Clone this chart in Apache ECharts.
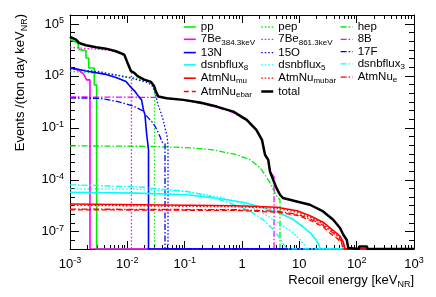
<!DOCTYPE html>
<html><head><meta charset="utf-8">
<script src="https://cdn.jsdelivr.net/npm/echarts@6/dist/echarts.min.js"></script>
<style>html,body{margin:0;padding:0;background:#fff}#c{width:436px;height:297px}</style>
</head><body><div id="c"></div>
<script>
// empty histogram bins are drawn on the floor of the log axis
const ZERO = 1e-8;

const ppE = [0.001, 0.00136, 0.00145, 0.00145, 0.0019, 0.0019, 0.00212, 0.00212, 0.00265, 0.00265, 0.00292, 0.00292, 1000];
const ppR = [13000, 8000, 8000, 3290, 2960, 1090, 1090, 289, 289, 30.2, 30.2, ZERO, ZERO];

const pepE = [0.001, 0.00334, 0.00745, 0.0136, 0.0212, 0.0269, 0.0298, 0.0298, 1000];
const pepR = [181, 139, 107, 76.6, 48, 36, 30, ZERO, ZERO];

const hepE = [0.001, 0.0249, 0.124, 0.312, 0.818, 1.38, 2.06, 2.52, 3.08, 4.08, 4.6, 4.6, 1000];
const hepR = [0.00912, 0.00853, 0.0070, 0.00536, 0.00276, 0.00142, 4.91e-4, 1.94e-4, 6.69e-5, 1.04e-5, 6.98e-6, ZERO, ZERO];

const be384E = [0.001, 0.00138, 0.00171, 0.00183, 0.00194, 0.00223, 0.00223, 1000];
const be384R = [289, 222, 130, 87.5, 58.7, 58.7, ZERO, ZERO];

const be861E = [0.001, 0.0019, 0.00334, 0.00499, 0.00634, 0.00874, 0.01007, 0.0109, 0.0118, 0.0118, 1000];
const be861R = [4410, 3860, 3380, 2960, 2420, 1520, 562, 289, 170, ZERO, ZERO];

const b8E = [0.001, 0.0372, 0.0935, 0.185, 0.366, 0.697, 1.22, 1.83, 2.23, 2.52, 2.84, 3.08, 3.62, 3.62, 1000];
const b8R = [6.1, 5.74, 4.12, 2.59, 1.52, 0.782, 0.253, 0.067, 0.0177, 0.00242, 0.00124, 2.88e-4, 1.48e-4, ZERO, ZERO];

const n13E = [0.001, 0.0019, 0.00424, 0.00634, 0.00948, 0.0118, 0.0136, 0.0157, 0.0177, 0.0191, 0.0203, 0.0216, 0.0229, 0.0234, 0.0234, 1000];
const n13R = [309, 194, 122, 81.8, 48.1, 20.3, 12.7, 6.56, 4.12, 1.09, 0.561, 0.0513, 0.0104, 0.00536, ZERO, ZERO];

const o15E = [0.001, 0.00334, 0.0111, 0.0212, 0.0269, 0.0304, 0.0343, 0.0387, 0.0427, 0.0454, 0.0492, 0.0512, 0.0512, 1000];
const o15R = [253, 170, 76.6, 45, 28.3, 11.9, 2.12, 0.731, 0.253, 0.1, 0.0344, 0.0104, ZERO, ZERO];

const f17E = [0.001, 0.00334, 0.0066, 0.0126, 0.0188, 0.022, 0.0249, 0.028, 0.033, 0.0372, 0.0403, 0.0454, 0.0454, 1000];
const f17R = [5.37, 5.03, 3.38, 1.85, 0.955, 0.459, 0.288, 0.194, 0.0764, 0.0302, 0.0155, 0.0119, ZERO, ZERO];

const dsnb8E = [0.001, 0.0148, 0.11, 0.413, 1.04, 2.23, 4.6, 7.45, 11.6, 16.0, 19.5, 22.0, 23.0, 1000];
const dsnb8R = [1.89e-5, 1.70e-5, 1.36e-5, 7.98e-6, 5.01e-6, 2.58e-6, 1.16e-6, 5.6e-7, 1.93e-7, 7.64e-8, 3.43e-8, 1.77e-8, ZERO, ZERO];

const dsnb5E = [0.001, 0.0148, 0.11, 0.413, 0.923, 1.69, 2.84, 4.8, 7.45, 10.3, 12.5, 13.1, 1000];
const dsnb5R = [3.01e-5, 2.82e-5, 2.10e-5, 9.75e-6, 4.69e-6, 2.11e-6, 7.8e-7, 2.52e-7, 9.95e-8, 3.43e-8, 1.55e-8, ZERO, ZERO];

const dsnb3E = [0.001, 0.0148, 0.11, 0.277, 0.618, 1.27, 2.23, 3.33, 4.6, 5.36, 6.09, 1000];
const dsnb3R = [5.13e-5, 3.93e-5, 2.10e-5, 1.08e-5, 4.51e-6, 1.85e-6, 5.6e-7, 1.58e-7, 4.19e-8, 1.77e-8, ZERO, ZERO];

const atmMuE = [0.001, 0.818, 4.08, 9.1, 15.3, 25.9, 38.7, 51.3, 58.5, 62.6, 1000];
const atmMuR = [3.95e-6, 3.15e-6, 2.58e-6, 1.62e-6, 8.34e-7, 3.52e-7, 1.21e-7, 5.47e-8, 2.47e-8, ZERO, ZERO];

const atmMubarE = [0.001, 0.818, 4.08, 9.1, 15.3, 25.9, 38.7, 51.3, 57.8, 61.4, 1000];
const atmMubarR = [3.37e-6, 2.75e-6, 2.26e-6, 1.33e-6, 6.83e-7, 2.88e-7, 9.95e-8, 4.49e-8, 2.16e-8, ZERO, ZERO];

const atmEE = [0.001, 0.818, 4.08, 9.1, 15.3, 25.9, 34.3, 45.4, 54.5, 59.0, 1000];
const atmER = [2.03e-6, 1.85e-6, 1.52e-6, 1.02e-6, 5.6e-7, 2.36e-7, 1.13e-7, 5.85e-8, 2.81e-8, ZERO, ZERO];

const atmEbarE = [0.001, 0.818, 4.08, 9.1, 15.3, 25.9, 34.3, 45.4, 54.5, 57.8, 1000];
const atmEbarR = [1.85e-6, 1.69e-6, 1.33e-6, 8.91e-7, 4.58e-7, 1.93e-7, 8.15e-8, 4.19e-8, 2.16e-8, ZERO, ZERO];

const totalE = [0.001, 0.00127, 0.00144, 0.0019, 0.00284, 0.00424, 0.00634, 0.00885, 0.0101, 0.0116, 0.0132, 0.0151, 0.0197, 0.0259, 0.0292, 0.0316, 0.0348, 0.0486, 0.0948, 0.185, 0.362, 0.706, 1.21, 1.78, 2.23, 2.52, 2.87, 3.08, 3.5, 4.0, 4.6, 5.2, 9.0, 15.3, 26, 39, 51.3, 58.5, 67, 71.5, 72, 110, 110, 152, 152, 1000];
const totalR = [17800, 12400, 8000, 5900, 4530, 3760, 2660, 1690, 562, 187, 149, 96, 61, 45, 26.4, 11.9, 6.4, 5.16, 4.12, 2.88, 1.69, 0.869, 0.288, 0.0764, 0.0202, 2.8e-3, 1.4e-3, 3.0e-4, 1.0e-4, 3.3e-5, 1.36e-5, 8.75e-6, 5.57e-6, 3.6e-6, 1.48e-6, 4.9e-7, 1.63e-7, 6.67e-8, 3.43e-8, 1.14e-8, ZERO, ZERO, 1.4e-8, 1.4e-8, ZERO, ZERO];

const xLabelValues = [1e-3, 1e-2, 1e-1, 1, 10, 100, 1000];
const yLabelValues = [1e-7, 1e-4, 1e-1, 1e2, 1e5];

const legendCol1 = ['pp', '7Be384', '13N', 'dsnbflux8', 'AtmNu_mu', 'AtmNu_ebar'];
const legendCol2 = ['pep', '7Be861', '15O', 'dsnbflux5', 'AtmNu_mubar', 'total'];
const legendCol3 = ['hep', '8B', '17F', 'dsnbflux3', 'AtmNu_e'];

const legendText = {
  'pp': '{t|pp}', 'pep': '{t|pep}', 'hep': '{t|hep}',
  '7Be384': '{t|7Be}{s|384.3keV}', '7Be861': '{t|7Be}{s|861.3keV}', '8B': '{t|8B}',
  '13N': '{t|13N}', '15O': '{t|15O}', '17F': '{t|17F}',
  'dsnbflux8': '{t|dsnbflux}{s|8}', 'dsnbflux5': '{t|dsnbflux}{s|5}', 'dsnbflux3': '{t|dsnbflux}{s|3}',
  'AtmNu_mu': '{t|AtmNu}{s|mu}', 'AtmNu_mubar': '{t|AtmNu}{s|mubar}', 'AtmNu_e': '{t|AtmNu}{s|e}',
  'AtmNu_ebar': '{t|AtmNu}{s|ebar}', 'total': '{t|total}'
};

// minor tick positions (axis decoration)
const xMinorTicks = [];
for (let n = -3; n <= 2; n++) for (let k = 2; k <= 9; k++) xMinorTicks.push(k * Math.pow(10, n));
const yMinorTicks = [];
for (let k = -16; k <= 11; k++) {
  const v = Math.pow(10, k / 2);
  if (!yLabelValues.some(l => Math.abs(Math.log10(l) - k / 2) < 1e-6)) yMinorTicks.push(v);
}

const GREEN = '#00ee00', MAG = '#ff00ff', BLUE = '#0000ff', CYAN = '#00ffff', RED = '#ff0000';
const SOLID = 'solid', DOT = [1.5, 2], DASHDOT = [6, 2, 1.5, 2], DASH = [5, 3];

const seriesDefs = [
  ['pp', ppE, ppR, GREEN, SOLID, 1.6],
  ['pep', pepE, pepR, GREEN, DOT, 1.3],
  ['hep', hepE, hepR, GREEN, DASHDOT, 1.3],
  ['7Be384', be384E, be384R, MAG, SOLID, 1.6],
  ['7Be861', be861E, be861R, MAG, DOT, 1.3],
  ['8B', b8E, b8R, MAG, DASHDOT, 1.3],
  ['13N', n13E, n13R, BLUE, SOLID, 1.6],
  ['15O', o15E, o15R, BLUE, DOT, 1.3],
  ['17F', f17E, f17R, BLUE, DASHDOT, 1.3],
  ['dsnbflux8', dsnb8E, dsnb8R, CYAN, SOLID, 1.6],
  ['dsnbflux5', dsnb5E, dsnb5R, CYAN, DOT, 1.3],
  ['dsnbflux3', dsnb3E, dsnb3R, CYAN, DASHDOT, 1.3],
  ['AtmNu_mu', atmMuE, atmMuR, RED, SOLID, 1.6],
  ['AtmNu_mubar', atmMubarE, atmMubarR, RED, DOT, 1.3],
  ['AtmNu_e', atmEE, atmER, RED, DASHDOT, 1.3],
  ['AtmNu_ebar', atmEbarE, atmEbarR, RED, DASH, 1.3],
  ['total', totalE, totalR, '#000000', SOLID, 2.5]
];

const FONT = 'Liberation Sans';
const tickRich = {
  b: { fontSize: 13, fontFamily: FONT, color: '#000', lineHeight: 16 },
  p: { fontSize: 9, fontFamily: FONT, color: '#000', lineHeight: 16, verticalAlign: 'top' }
};
function expLabel(v) {
  const e = Math.round(Math.log10(v));
  if (e === 0) return '{b|1}';
  if (e === 1) return '{b|10}';
  return '{b|10}{p|' + e + '}';
}

function logAxis(base, extra) {
  return Object.assign({
    type: 'log', logBase: 10,
    splitLine: { show: false }, minorTick: { show: false }, minorSplitLine: { show: false },
    axisPointer: { show: false }
  }, base, extra);
}

const xRange = { min: 1e-3, max: 1e3 };
const yRange = { min: 1e-8, max: 3.3e5 };
const blackLine = { show: true, lineStyle: { color: '#000', width: 1 } };

const option = {
  animation: false,
  grid: [
    { left: 70, right: 22, top: 15, bottom: 48, outerBoundsMode: 'none', containLabel: false },
    { left: 70, right: 22, top: 15, bottom: 48, outerBoundsMode: 'none', containLabel: false }
  ],
  xAxis: [
    logAxis(xRange, { gridIndex: 0, position: 'bottom', axisLine: blackLine,
      axisTick: { show: true, inside: true, length: 8, customValues: xLabelValues, lineStyle: { color: '#000' } },
      axisLabel: { show: true, customValues: xLabelValues, formatter: expLabel, margin: 7, rich: tickRich } }),
    logAxis(xRange, { gridIndex: 0, position: 'top', axisLine: blackLine,
      axisTick: { show: true, inside: true, length: 8, customValues: xLabelValues, lineStyle: { color: '#000' } },
      axisLabel: { show: false } }),
    logAxis(xRange, { gridIndex: 1, position: 'bottom', axisLine: { show: false },
      axisTick: { show: true, inside: true, length: 4, customValues: xMinorTicks, lineStyle: { color: '#000' } },
      axisLabel: { show: false } }),
    logAxis(xRange, { gridIndex: 1, position: 'top', axisLine: { show: false },
      axisTick: { show: true, inside: true, length: 4, customValues: xMinorTicks, lineStyle: { color: '#000' } },
      axisLabel: { show: false } })
  ],
  yAxis: [
    logAxis(yRange, { gridIndex: 0, position: 'left', axisLine: blackLine,
      axisTick: { show: true, inside: true, length: 9, customValues: yLabelValues, lineStyle: { color: '#000' } },
      axisLabel: { show: true, customValues: yLabelValues, formatter: expLabel, margin: 6, rich: tickRich } }),
    logAxis(yRange, { gridIndex: 0, position: 'right', axisLine: blackLine,
      axisTick: { show: true, inside: true, length: 9, customValues: yLabelValues, lineStyle: { color: '#000' } },
      axisLabel: { show: false } }),
    logAxis(yRange, { gridIndex: 1, position: 'left', axisLine: { show: false },
      axisTick: { show: true, inside: true, length: 5, customValues: yMinorTicks, lineStyle: { color: '#000' } },
      axisLabel: { show: false } }),
    logAxis(yRange, { gridIndex: 1, position: 'right', axisLine: { show: false },
      axisTick: { show: true, inside: true, length: 5, customValues: yMinorTicks, lineStyle: { color: '#000' } },
      axisLabel: { show: false } })
  ],
  legend: [legendCol1, legendCol2, legendCol3].map((col, i) => ({
    data: col, orient: 'vertical', left: [183, 260, 340][i], top: 21,
    itemWidth: 12, itemHeight: 8, itemGap: 0.3, padding: 0, selectedMode: false,
    itemStyle: { opacity: 0, borderWidth: 0 },
    lineStyle: { width: 'inherit', type: 'inherit', color: 'inherit' },
    formatter: name => legendText[name],
    textStyle: {
      fontFamily: FONT, color: '#000',
      rich: {
        t: { fontSize: 11.5, fontFamily: FONT, color: '#000', lineHeight: 14 },
        s: { fontSize: 8, fontFamily: FONT, color: '#000', lineHeight: 14, verticalAlign: 'bottom' }
      }
    }
  })),
  graphic: [
    { type: 'text', x: 414, y: 280, silent: true,
      style: { text: '{t|Recoil energy [keV}{s|NR}{t|]}', align: 'right', verticalAlign: 'middle',
        rich: { t: { fontSize: 13, fontFamily: FONT, fill: '#000', lineHeight: 20 },
                s: { fontSize: 9, fontFamily: FONT, fill: '#000', lineHeight: 20, verticalAlign: 'bottom', padding: [0, 0, 1, 0] } } } },
    { type: 'text', x: 20, y: 14, rotation: Math.PI / 2, silent: true,
      style: { text: '{t|Events /(ton day keV}{s|NR}{t|)}', align: 'right', verticalAlign: 'middle',
        rich: { t: { fontSize: 13, fontFamily: FONT, fill: '#000', lineHeight: 20 },
                s: { fontSize: 9, fontFamily: FONT, fill: '#000', lineHeight: 20, verticalAlign: 'bottom', padding: [0, 0, 1, 0] } } } }
  ],
  series: seriesDefs.map(([name, E, R, color, type, width]) => ({
    name, type: 'line', xAxisIndex: 0, yAxisIndex: 0, symbol: 'none', showSymbol: false,
    silent: true, clip: true,
    data: E.map((e, i) => [e, R[i]]),
    lineStyle: { color, width, type },
    itemStyle: { color }
  }))
};

const chart = echarts.init(document.getElementById('c'), null, { renderer: 'canvas', width: 436, height: 297 });
chart.setOption(option);
</script>
</body></html>
